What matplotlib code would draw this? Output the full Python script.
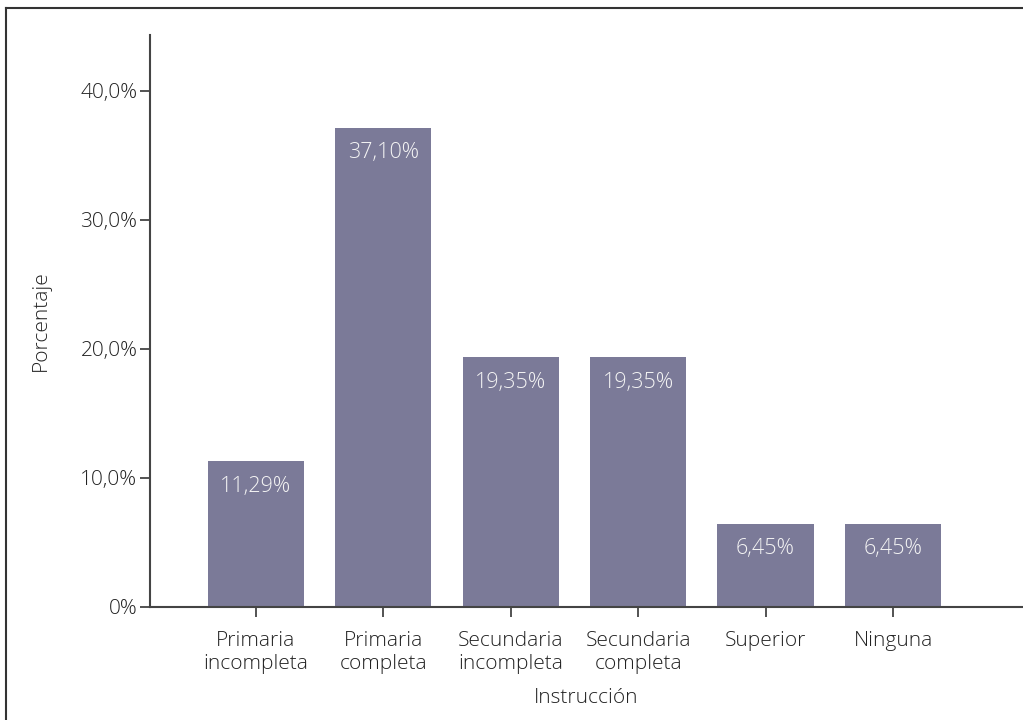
import matplotlib.pyplot as plt
from matplotlib.lines import Line2D

plt.rcParams['font.family'] = ['Open Sans', 'DejaVu Sans']
plt.rcParams['font.weight'] = 'light'
plt.rcParams['axes.labelweight'] = 'light'

categorias = ['Primaria\nincompleta', 'Primaria\ncompleta', 'Secundaria\nincompleta',
              'Secundaria\ncompleta', 'Superior', 'Ninguna']
porcentajes = [11.29, 37.10, 19.35, 19.35, 6.45, 6.45]
etiquetas = ['11,29%', '37,10%', '19,35%', '19,35%', '6,45%', '6,45%']
yticks = [0, 10, 20, 30, 40]
ytick_labels = ['0%', '10,0%', '20,0%', '30,0%', '40,0%']

texto = '#222222'
eje = '#444444'
fs = 15

fig = plt.figure(figsize=(10.23, 7.2), dpi=100)
ax = fig.add_axes([150 / 1023, 1 - 607 / 720, 1 - 150 / 1023, (607 - 35) / 720])

x = list(range(len(categorias)))
bars = ax.bar(x, porcentajes, width=0.755, color='#7b7a98')
for b, lab in zip(bars, etiquetas):
    ax.annotate(lab, (b.get_x() + b.get_width() / 2, b.get_height()),
                xytext=(0, -18), textcoords='offset points',
                ha='center', va='center', color='#f4f4f4', fontsize=15.5)

ax.set_xlim(-0.83, 6.02)
ax.set_ylim(0, 44.3)
ax.set_xticks(x)
ax.set_xticklabels(categorias, fontsize=fs, color=texto, linespacing=1.25)
ax.set_yticks(yticks)
ax.set_yticklabels(ytick_labels, fontsize=fs, color=texto)
ax.tick_params(axis='both', length=7, width=1.3, color=eje)
ax.tick_params(axis='x', pad=10)
ax.tick_params(axis='y', pad=2)

for s in ['top', 'right']:
    ax.spines[s].set_visible(False)
for s in ['left', 'bottom']:
    ax.spines[s].set_color(eje)
    ax.spines[s].set_linewidth(1.5)

ax.set_ylabel('Porcentaje', fontsize=fs, color=texto, labelpad=21)
ax.set_xlabel('Instrucción', fontsize=fs, color=texto, labelpad=10)

# marco superior e izquierdo de la figura
fig.add_artist(Line2D([6 / 1023, 6 / 1023], [0, 1 - 8 / 720], color='#333333', lw=1.5))
fig.add_artist(Line2D([6 / 1023, 1], [1 - 8 / 720, 1 - 8 / 720], color='#333333', lw=1.5))

fig.savefig('out.png', dpi=100)
